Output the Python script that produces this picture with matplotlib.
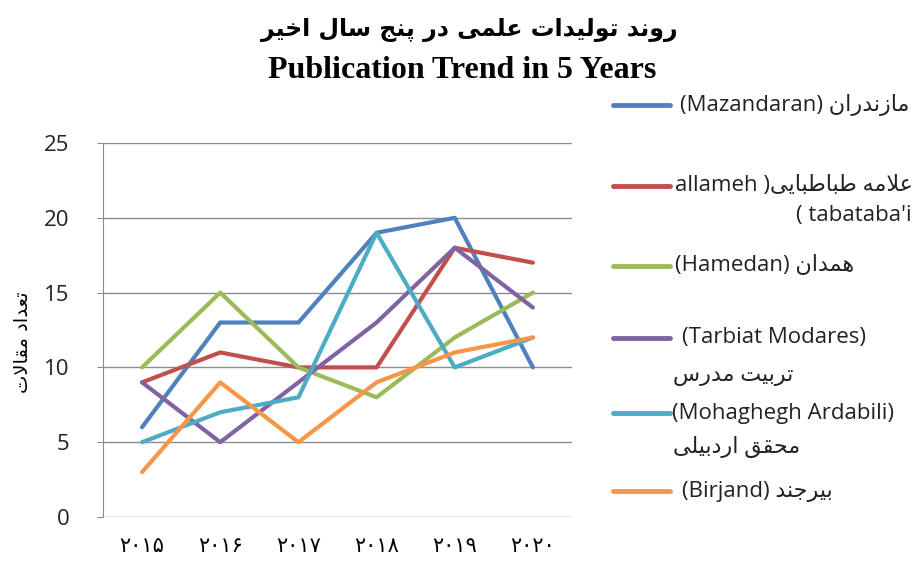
import matplotlib
matplotlib.use("Agg")
import matplotlib.pyplot as plt
from matplotlib.lines import Line2D

# data
years = ["۲۰۱۵", "۲۰۱۶", "۲۰۱۷", "۲۰۱۸", "۲۰۱۹", "۲۰۲۰"]
mazandaran = [6, 13, 13, 19, 20, 10]
allameh = [9, 11, 10, 10, 18, 17]
hamedan = [10, 15, 10, 8, 12, 15]
tarbiat = [9, 5, 9, 13, 18, 14]
mohaghegh = [5, 7, 8, 19, 10, 12]
birjand = [3, 9, 5, 9, 11, 12]

title_fa = "روند تولیدات علمی در پنج سال اخیر"
title_en = "Publication Trend in 5 Years"
ylabel_fa = "تعداد مقالات"

colors = ["#4F81BD", "#C0504D", "#9BBB59", "#8064A2", "#4BACC6", "#F79646"]

# Arabic presentation forms: isolated, final, initial, medial
FORMS = {
    "ا": ("\uFE8D", "\uFE8E", None, None),
    "ب": ("\uFE8F", "\uFE90", "\uFE91", "\uFE92"),
    "پ": ("\uFB56", "\uFB57", "\uFB58", "\uFB59"),
    "ت": ("\uFE95", "\uFE96", "\uFE97", "\uFE98"),
    "ج": ("\uFE9D", "\uFE9E", "\uFE9F", "\uFEA0"),
    "ح": ("\uFEA1", "\uFEA2", "\uFEA3", "\uFEA4"),
    "خ": ("\uFEA5", "\uFEA6", "\uFEA7", "\uFEA8"),
    "د": ("\uFEA9", "\uFEAA", None, None),
    "ر": ("\uFEAD", "\uFEAE", None, None),
    "ز": ("\uFEAF", "\uFEB0", None, None),
    "س": ("\uFEB1", "\uFEB2", "\uFEB3", "\uFEB4"),
    "ط": ("\uFEC1", "\uFEC2", "\uFEC3", "\uFEC4"),
    "ع": ("\uFEC9", "\uFECA", "\uFECB", "\uFECC"),
    "ق": ("\uFED5", "\uFED6", "\uFED7", "\uFED8"),
    "ل": ("\uFEDD", "\uFEDE", "\uFEDF", "\uFEE0"),
    "م": ("\uFEE1", "\uFEE2", "\uFEE3", "\uFEE4"),
    "ن": ("\uFEE5", "\uFEE6", "\uFEE7", "\uFEE8"),
    "ه": ("\uFEE9", "\uFEEA", "\uFEEB", "\uFEEC"),
    "و": ("\uFEED", "\uFEEE", None, None),
    "ی": ("\uFBFC", "\uFBFD", "\uFBFE", "\uFBFF"),
}


def fa(text):
    """Shape a Persian string and return it in visual (left-to-right) order."""
    out = []
    i = 0
    while i < len(text):
        c = text[i]
        if c not in FORMS:
            out.append(c)
            i += 1
            continue
        prev = text[i - 1] if i > 0 else ""
        joins_prev = prev in FORMS and FORMS[prev][2] is not None
        if c == "ل" and i + 1 < len(text) and text[i + 1] == "ا":
            out.append("\uFEFC" if joins_prev else "\uFEFB")
            i += 2
            continue
        nxt = text[i + 1] if i + 1 < len(text) else ""
        iso, fin, ini, med = FORMS[c]
        joins_next = ini is not None and nxt in FORMS
        if joins_prev and joins_next:
            out.append(med)
        elif joins_prev:
            out.append(fin)
        elif joins_next:
            out.append(ini)
        else:
            out.append(iso)
        i += 1
    return "".join(reversed(out))


W, H = 921, 562


def px(x, y):
    return x / W, 1 - y / H


mixed = ["Open Sans", "DejaVu Sans"]

fig = plt.figure(figsize=(W / 100, H / 100), dpi=100)
ax = fig.add_axes([103 / W, 1 - 517 / H, (572 - 103) / W, (517 - 143) / H])

series = [mazandaran, allameh, hamedan, tarbiat, mohaghegh, birjand]
x = range(len(years))
for vals, col in zip(series, colors):
    ax.plot(x, vals, color=col, linewidth=3, solid_capstyle="round", zorder=3)

ax.set_xlim(-0.5, len(years) - 0.5)
ax.set_ylim(0, 25)
ax.set_yticks(range(0, 26, 5))
ax.set_xticks(list(x))
ax.set_xticklabels(years, family="DejaVu Sans", fontsize=15)
for lab in ax.get_yticklabels():
    lab.set_family("Open Sans")
    lab.set_fontsize(16)
    lab.set_color("#222222")
ax.tick_params(axis="x", length=0, pad=14)
ax.tick_params(axis="y", length=4, color="#8c8c8c", pad=20)
ax.yaxis.grid(True, color="#8c8c8c", linewidth=1)
ax.set_axisbelow(True)
for s in ["top", "right", "bottom"]:
    ax.spines[s].set_visible(False)
ax.spines["left"].set_color("#8c8c8c")

fig.text(*px(22, 342), fa(ylabel_fa), rotation=90, ha="center", va="center",
         family="DejaVu Sans", fontsize=14)

fig.text(*px(469, 30), fa(title_fa), ha="center", va="center",
         family="DejaVu Sans", fontweight="bold", fontsize=17)
fig.text(*px(462, 71), title_en, ha="center", va="center",
         family="Liberation Serif", fontweight="bold", fontsize=23)

# legend, laid out like the original
legend_rows = [
    (105, 680, "(Mazandaran) " + fa("مازندران"), None),
    (186, 675, "allameh )" + fa("علامه طباطبایی"), (215, "( tabataba'i")),
    (266, 675, "(Hamedan) " + fa("همدان"), None),
    (338, 682, "(Tarbiat Modares)", (375, fa("تربیت مدرس"))),
    (413, 672, "(Mohaghegh Ardabili)", (447, fa("محقق اردبیلی"))),
    (491, 682, "(Birjand) " + fa("بیرجند"), None),
]
for (ly, tx, label, second), col in zip(legend_rows, colors):
    x0, y0 = px(613, ly)
    x1, _ = px(670, ly)
    fig.add_artist(Line2D([x0, x1], [y0, y0], color=col, linewidth=3.5,
                          solid_capstyle="round", transform=fig.transFigure))
    fig.text(*px(tx, ly), label, ha="left", va="center", family=mixed,
             fontsize=16, color="#222222")
    if second is not None:
        sy, stext = second
        if stext.startswith("("):
            fig.text(*px(912, sy), stext, ha="right", va="center",
                     family=mixed, fontsize=16, color="#222222")
        else:
            fig.text(*px(673, sy), stext, ha="left", va="center",
                     family=mixed, fontsize=16, color="#222222")

fig.savefig("out.png", dpi=100)
